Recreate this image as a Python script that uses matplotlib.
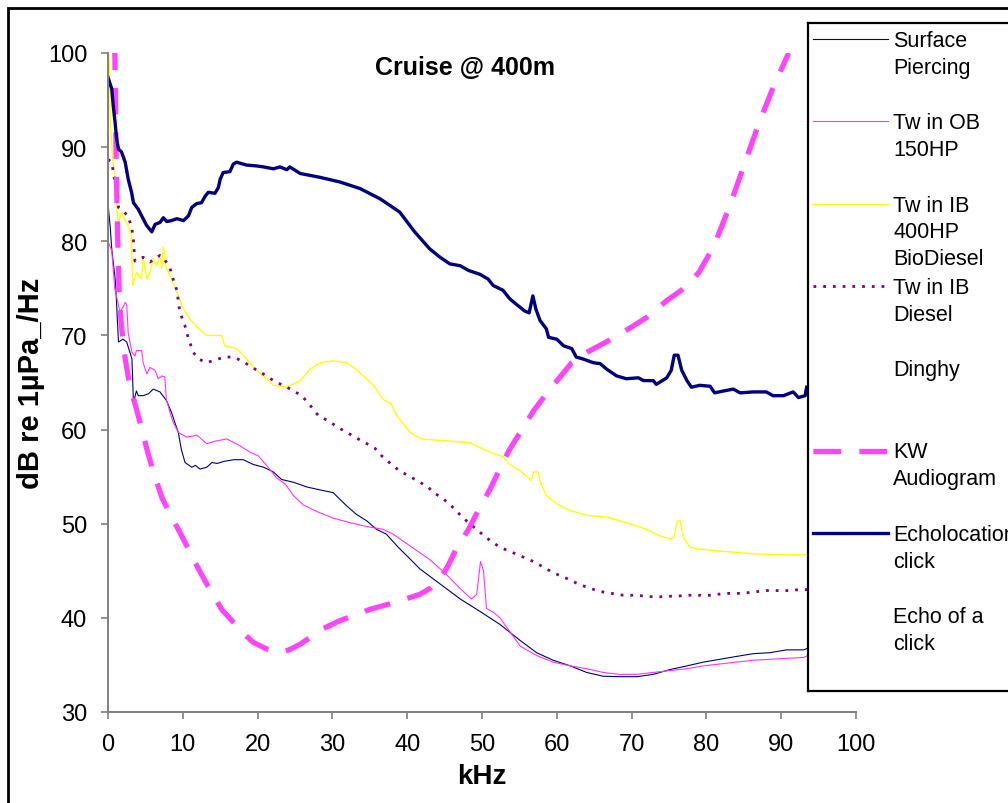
import numpy as np
import matplotlib
matplotlib.use('Agg')
import matplotlib.pyplot as plt
from matplotlib.patches import Rectangle

plt.rcParams['font.family'] = ['Liberation Sans', 'DejaVu Sans']
plt.rcParams['lines.scale_dashes'] = False

# (kHz, dB) pairs
surface_piercing = np.array([
    (0, 84), (0.3, 81.5), (0.5, 79.2), (1.0, 75.7), (1.2, 72.5), (1.4, 69.3), (2.0, 69.6),
    (2.5, 69.3), (3.2, 67.5), (3.4, 62.9), (3.8, 64.1), (4.05, 63.6), (4.7, 63.6), (5.4, 63.8),
    (6.05, 64.3), (6.95, 64.0), (7.8, 63.1), (8.5, 61.8), (9.0, 60.6), (9.4, 59.7), (9.8, 57.9),
    (10.3, 56.5), (11.2, 56.0), (11.7, 56.2), (12.3, 55.8), (13.2, 56.0), (13.9, 56.5),
    (14.6, 56.4), (15.4, 56.6), (16.8, 56.8), (18.1, 56.8), (19.4, 56.3), (20.8, 56.0),
    (22.1, 55.5), (23.2, 54.7), (24.8, 54.4), (26.6, 53.9), (28.3, 53.6), (30.1, 53.3),
    (31.0, 52.6), (31.9, 51.9), (33.2, 51.0), (34.6, 50.3), (35.9, 49.4), (37.2, 48.9),
    (38.8, 47.5), (40.2, 46.4), (41.7, 45.2), (44.4, 43.6), (47.1, 42.0), (49.7, 40.7),
    (52.4, 39.3), (55.1, 37.6), (57.3, 36.3), (59.5, 35.5), (61.8, 34.9), (64.0, 34.2),
    (66.2, 33.8), (68.4, 33.75), (70.7, 33.75), (72.9, 34.0), (75.1, 34.5), (77.4, 34.9),
    (79.6, 35.3), (81.8, 35.6), (84.0, 35.9), (86.3, 36.2), (88.5, 36.3), (90.7, 36.6),
    (93.0, 36.6), (93.6, 36.8)])

twin_ob_150 = np.array([
    (0, 80), (0.5, 79), (0.9, 75), (1.2, 73.9), (1.6, 72.5), (2.0, 73.0), (2.3, 73.5),
    (2.5, 73.3), (2.7, 70.3), (3.2, 68.2), (3.6, 67.8), (3.8, 68.4), (4.5, 68.4), (4.7, 67.1),
    (5.2, 65.9), (5.6, 66.6), (6.3, 66.3), (6.7, 65.4), (7.2, 65.7), (7.6, 65.6), (7.8, 63.2),
    (8.3, 61.8), (8.7, 60.8), (9.4, 59.7), (10.5, 59.2), (11.9, 59.4), (13.2, 58.5),
    (14.5, 58.8), (15.9, 59.0), (17.6, 58.3), (19.0, 57.6), (20.1, 57.2), (21.2, 56.2),
    (22.5, 54.9), (23.7, 54.2), (24.8, 53.0), (26.1, 52.0), (27.9, 51.3), (30.1, 50.6),
    (32.4, 50.1), (34.6, 49.7), (36.8, 49.4), (38.1, 48.9), (39.0, 48.4), (41.0, 47.3),
    (43.0, 46.2), (45.0, 44.8), (47.1, 43.1), (48.6, 42.0), (49.3, 42.5), (49.8, 46.0),
    (50.2, 45.0), (50.6, 41.0), (51.5, 40.6), (52.4, 40.0), (53.5, 38.8), (55.1, 37.0),
    (57.3, 36.0), (59.5, 35.3), (61.8, 34.9), (64.0, 34.6), (66.2, 34.2), (68.4, 34.0),
    (70.7, 34.0), (72.9, 34.2), (75.1, 34.4), (77.4, 34.6), (79.6, 34.9), (81.8, 35.1),
    (84.0, 35.3), (86.3, 35.5), (88.5, 35.6), (90.7, 35.7), (93.0, 35.8), (93.6, 36.0)])

twin_ib_biodiesel = np.array([
    (0, 100.5), (0.2, 99), (0.3, 93), (0.6, 89), (0.95, 86.6), (1.2, 83.4), (1.4, 82.0),
    (1.8, 83.1), (2.3, 82.2), (2.7, 81.7), (3.1, 80.6), (3.3, 75.3), (3.8, 76.7), (4.5, 76.0),
    (4.7, 78.3), (5.2, 76.0), (5.6, 76.7), (6.05, 78.1), (6.5, 77.4), (6.95, 78.5), (7.2, 77.1),
    (7.4, 79.4), (7.8, 77.2), (8.5, 76.0), (9.2, 74.6), (10.1, 72.8), (11.0, 71.7), (11.9, 70.9),
    (13.2, 70.0), (14.5, 70.0), (15.2, 70.0), (15.6, 68.9), (17.2, 68.6), (18.5, 67.5),
    (19.7, 66.4), (21.2, 65.4), (22.1, 64.7), (23.9, 64.5), (25.7, 65.2), (27.0, 66.4),
    (28.3, 67.1), (30.1, 67.3), (31.9, 67.1), (33.2, 66.4), (35.5, 64.7), (36.8, 63.2),
    (37.9, 62.7), (38.6, 61.5), (39.5, 60.6), (40.4, 59.7), (41.9, 59.0), (45.3, 58.8),
    (48.4, 58.6), (49.7, 58.1), (51.1, 57.6), (52.8, 57.1), (53.7, 56.3), (55.1, 55.6),
    (56.6, 54.6), (56.9, 55.5), (57.5, 55.5), (57.8, 54.4), (58.6, 53.0), (60.0, 52.1),
    (61.8, 51.4), (64.0, 50.9), (66.7, 50.7), (69.8, 50.0), (72.0, 49.4), (73.8, 48.7),
    (75.1, 48.4), (75.7, 48.6), (76.1, 50.3), (76.5, 50.3), (76.9, 48.6), (77.8, 47.5),
    (79.1, 47.3), (81.8, 47.1), (86.3, 46.8), (90.7, 46.7), (93.6, 46.7)])

twin_ib_diesel = np.array([
    (0, 88.7), (0.5, 88.4), (1.2, 85.0), (1.4, 83.6), (2.7, 82.7), (3.2, 81.3), (3.4, 80.1),
    (3.6, 77.9), (4.7, 78.3), (5.6, 77.8), (6.95, 78.5), (7.4, 78.3), (8.3, 77.1), (8.7, 76.0),
    (9.2, 74.8), (9.6, 72.5), (10.3, 71.0), (10.7, 69.8), (11.4, 68.2), (12.1, 67.5),
    (13.2, 67.1), (14.3, 67.4), (15.6, 67.7), (16.8, 67.7), (18.1, 67.2), (19.7, 66.4),
    (21.0, 65.8), (22.3, 65.1), (23.7, 64.6), (24.8, 64.1), (25.9, 63.6), (27.0, 62.6),
    (28.1, 61.5), (29.5, 60.9), (30.8, 60.2), (31.7, 59.8), (33.0, 59.2), (34.4, 58.6),
    (35.7, 58.0), (36.6, 57.2), (37.9, 56.3), (39.0, 55.6), (40.4, 55.0), (41.7, 54.4),
    (42.8, 53.9), (43.5, 53.3), (44.6, 52.8), (45.9, 51.9), (47.5, 50.6), (49.7, 49.1),
    (51.1, 48.2), (52.4, 47.5), (55.1, 46.6), (57.1, 45.9), (58.4, 45.3), (59.5, 44.8),
    (61.3, 44.2), (62.6, 43.7), (64.2, 43.2), (65.8, 42.8), (67.3, 42.6), (68.9, 42.4),
    (70.5, 42.4), (71.9, 42.3), (73.4, 42.2), (74.7, 42.3), (75.9, 42.3), (77.6, 42.4),
    (79.1, 42.4), (80.5, 42.4), (81.4, 42.5), (82.7, 42.6), (84.5, 42.6), (85.8, 42.7),
    (88.0, 42.9), (89.6, 42.9), (91.0, 42.9), (92.5, 43.0), (93.6, 43.0)])

kw_audiogram = np.array([
    (0.9, 101), (1.0, 95), (1.1, 88), (1.3, 80.2), (1.5, 74.2), (1.8, 71.0), (2.3, 67.5),
    (2.9, 64.7), (3.8, 62.2), (4.5, 60.1), (5.2, 57.9), (6.1, 55.4), (7.2, 52.8), (8.3, 51.0),
    (9.4, 49.4), (10.5, 47.7), (12.1, 45.2), (13.2, 43.6), (15.2, 40.9), (16.8, 39.5),
    (18.2, 38.3), (19.4, 37.4), (21.2, 36.7), (23.0, 36.3), (24.2, 36.6), (25.7, 37.2),
    (28.6, 38.8), (31.0, 39.7), (35.0, 40.9), (37.7, 41.5), (39.0, 41.8), (41.7, 42.5),
    (43.2, 43.2), (44.4, 44.1), (45.5, 45.6), (46.6, 47.4), (48.2, 49.4), (49.7, 51.7),
    (51.1, 53.7), (52.6, 56.2), (53.7, 57.9), (55.5, 60.2), (56.9, 62.0), (59.1, 64.3),
    (62.0, 67.1), (64.0, 68.2), (67.3, 69.6), (69.6, 70.7), (72.0, 71.9), (74.7, 73.7),
    (77.0, 75.0), (79.0, 76.7), (81.0, 79.5), (83.0, 83.5), (85.0, 88.0), (87.0, 92.5),
    (89.0, 96.5), (91.0, 100.0)])

echolocation_click = np.array([
    (0, 97.4), (0.5, 96.2), (0.7, 94.4), (0.95, 92.6), (1.15, 90.9), (1.4, 89.8), (1.8, 89.5),
    (2.3, 88.4), (2.7, 86.6), (3.15, 85.2), (3.4, 84.1), (4.05, 83.4), (4.5, 82.7), (5.15, 81.7),
    (5.85, 81.0), (6.3, 81.8), (6.95, 82.0), (7.4, 82.5), (7.85, 82.1), (8.5, 82.2), (9.2, 82.4),
    (10.1, 82.2), (10.75, 82.7), (11.2, 83.6), (11.85, 84.0), (12.5, 84.1), (13.0, 84.8),
    (13.4, 85.2), (14.3, 85.1), (14.75, 85.7), (15.0, 86.6), (15.4, 87.3), (16.3, 87.4),
    (16.75, 88.2), (17.2, 88.4), (18.5, 88.1), (19.9, 88.0), (20.8, 87.9), (22.1, 87.7),
    (23.0, 87.9), (23.9, 87.6), (24.3, 87.9), (25.7, 87.2), (28.3, 86.8), (31.0, 86.3),
    (33.7, 85.6), (36.4, 84.5), (39.0, 83.1), (41.0, 81.0), (43.0, 79.2), (44.4, 78.3),
    (45.7, 77.6), (47.1, 77.4), (48.2, 76.9), (49.7, 76.5), (50.8, 76.0), (51.5, 75.3),
    (52.8, 74.8), (53.7, 73.9), (54.6, 73.3), (55.7, 72.6), (56.3, 72.4), (56.8, 74.2),
    (57.2, 72.8), (57.75, 71.6), (58.6, 70.7), (58.9, 69.8), (60.0, 69.6), (60.9, 68.9),
    (62.0, 68.6), (62.6, 67.7), (63.5, 67.5), (64.9, 67.1), (65.8, 67.0), (66.7, 66.4),
    (68.0, 65.7), (69.3, 65.4), (70.9, 65.5), (71.6, 65.2), (72.9, 65.2), (73.3, 64.8),
    (74.7, 65.5), (75.3, 66.3), (75.7, 67.9), (76.2, 67.9), (76.7, 66.3), (77.4, 65.2),
    (78.0, 64.5), (79.1, 64.7), (80.5, 64.6), (81.1, 63.9), (82.3, 64.1), (83.6, 64.3),
    (84.5, 63.9), (86.3, 64.0), (88.0, 64.0), (88.9, 63.6), (90.3, 63.6), (91.6, 64.0),
    (92.3, 63.4), (93.2, 63.6), (93.4, 64.5)])

x_ticks = [0, 10, 20, 30, 40, 50, 60, 70, 80, 90, 100]
y_ticks = [30, 40, 50, 60, 70, 80, 90, 100]

legend_labels = [
    ['Surface', 'Piercing'],
    ['Tw in OB', '150HP'],
    ['Tw in IB', '400HP', 'BioDiesel'],
    ['Tw in IB', 'Diesel'],
    ['Dinghy'],
    ['KW', 'Audiogram'],
    ['Echolocation', 'click'],
    ['Echo of a', 'click'],
]

navy = '#000080'
pink = '#FF33FF'
kw_pink = '#FF44FF'
yellow = '#FFFF00'
purple = '#800080'

# None = series with no visible line (Dinghy, Echo of a click)
styles = [
    dict(color=navy, lw=0.8),
    dict(color=pink, lw=0.8),
    dict(color=yellow, lw=1.0),
    dict(color=purple, lw=2.0, linestyle=(0, (2, 5))),
    None,
    dict(color=kw_pink, lw=3.8, linestyle=(0, (19, 13))),
    dict(color=navy, lw=2.4),
    None,
]

W, H = 1008, 804
fig = plt.figure(figsize=(W / 100, H / 100), dpi=100)

ax = fig.add_axes([108 / W, 1 - 713 / H, 748 / W, 659 / H])
series = [surface_piercing, twin_ob_150, twin_ib_biodiesel, twin_ib_diesel, None,
          kw_audiogram, echolocation_click, None]
for data, st in zip(series, styles):
    if data is None:
        continue
    ax.plot(data[:, 0], data[:, 1], solid_joinstyle='round', **st)

ax.set_xlim(0, 100)
ax.set_ylim(30, 100)
ax.set_xticks(x_ticks)
ax.set_yticks(y_ticks)
for s in ['top', 'right']:
    ax.spines[s].set_visible(False)
for s in ['left', 'bottom']:
    ax.spines[s].set_color('#808080')
    ax.spines[s].set_linewidth(1.4)
ax.tick_params(direction='out', length=5, width=1.2, color='#808080',
               labelsize=17, pad=10)
ax.set_xlabel('kHz', fontsize=20, fontweight='bold', labelpad=6)
ax.set_ylabel('dB re 1µPa_/Hz', fontsize=21, fontweight='bold', labelpad=2)
ax.text(0.477, 0.979, 'Cruise @ 400m', transform=ax.transAxes, ha='center', va='center',
        fontsize=18, fontweight='bold')

# legend box, drawn on top in pixel coordinates
lax = fig.add_axes([808 / W, 1 - 692 / H, 260 / W, 668 / H], zorder=5)
lax.set_xlim(808, 1068)
lax.set_ylim(692, 24)
lax.set_xticks([])
lax.set_yticks([])
for s in lax.spines.values():
    s.set_linewidth(1.6)
    s.set_color('black')

y0 = 40
step = 82.3
line_h = 26.8
for i, (lines, st) in enumerate(zip(legend_labels, styles)):
    yc = y0 + i * step
    if st is not None:
        kw = dict(st)
        if i == 5:
            kw['linestyle'] = (0, (20, 13))
        lax.plot([813, 888], [yc, yc], **kw)
    for k, txt in enumerate(lines):
        lax.text(893, yc + k * line_h + 7, txt, fontsize=15.5, va='baseline', ha='left')

# outer chart border
fig.add_artist(Rectangle((8 / W, -0.1), 1.2, 1 - 9 / H + 0.1, transform=fig.transFigure,
                         fill=False, edgecolor='black', linewidth=2.0))

fig.savefig('out.png', dpi=100)
